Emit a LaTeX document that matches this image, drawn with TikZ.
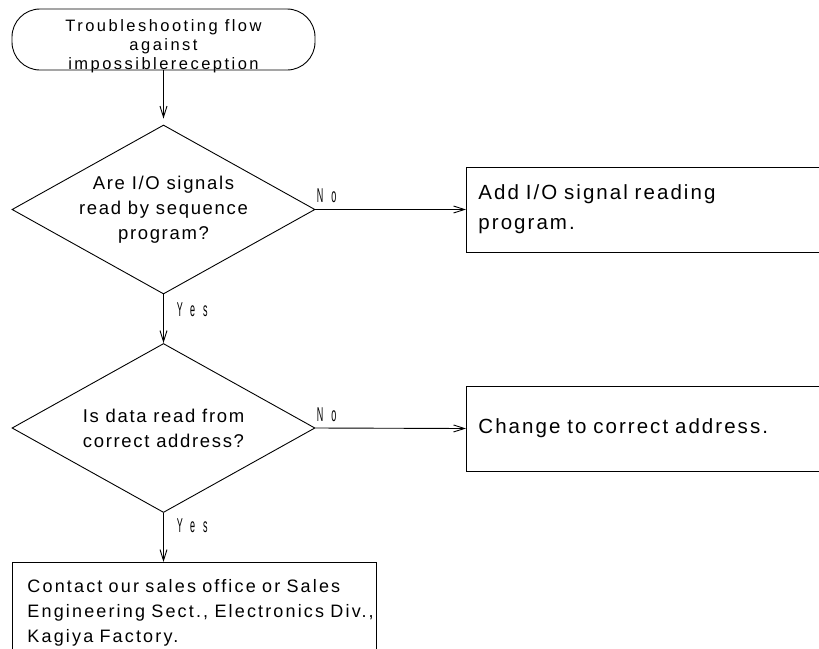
\documentclass[tikz,border=0pt]{standalone}
\usepackage{fontspec}
\setmainfont{Liberation Sans}
\newfontfamily\boxfont{Liberation Sans}[LetterSpace=10]
\newfontfamily\askfont{Liberation Sans}[LetterSpace=9]
\newfontfamily\notefont{Liberation Sans}[LetterSpace=12]
\newfontfamily\termfont{Liberation Sans}[LetterSpace=15]
\newfontfamily\ynfont{Liberation Sans}[FakeStretch=0.45,LetterSpace=40]
\newcommand\notespace{\spaceskip=6.3pt\relax}
\usetikzlibrary{shapes.geometric,arrows.meta}

\begin{document}
\begin{tikzpicture}[x=1pt,y=-1pt,line width=0.9pt,
                    every node/.style={inner sep=0pt},
                    >={Straight Barb[length=11pt,width=7pt]},
                    term/.style={draw,rectangle,rounded corners=28pt,minimum width=303pt,minimum height=61pt},
                    termtext/.style={align=center,font=\termfont\fontsize{16.5}{19}\selectfont},
                    decision/.style={draw,diamond,aspect=1.8,minimum width=303pt,minimum height=169pt,
                                     align=center,font=\askfont\fontsize{18.5}{25}\selectfont},
                    action/.style={draw,rectangle,minimum height=85pt,inner xsep=12pt,text width=340pt,
                                   align=left,font=\boxfont\fontsize{20.5}{30}\selectfont},
                    yn/.style={font=\ynfont\fontsize{20}{20}\selectfont}]
                      \useasboundingbox (0,0) rectangle (819,648);
                      \node [term] (start) at (163.5,39.5) {};
                      \node [termtext] (starttext) at ([yshift=-7pt]start.center) {Troubleshooting flow\\against\\impossiblereception};
                      \node [decision] (read) at (163.5,209.5) {Are I/O signals\\read by sequence\\program?};
                      \node [decision] (addr) at (163.5,428) {Is data read from\\correct address?};
                      \node [action,anchor=west] (addprog) at (466,209.5) {Add I/O signal reading\\program.};
                      \node [action,anchor=west] (change) at (466,428.5) {Change to correct address.};
                      \node [action,anchor=north west,minimum height=100pt,inner xsep=15pt,text width=334pt,
                             font=\notefont\fontsize{18}{25}\selectfont] (contact) at (12,562)
                            {\notespace Contact our sales office or Sales\\\mbox{Engineering Sect., Electronics Div.,}\\Kagiya Factory.};
                      \draw [black,->,shorten >=6pt] (start) -- (read);
                      \draw [black,->] (read.east) -- (addprog.west);
                      \draw [black,->] (read.south) -- (addr.north);
                      \draw [black,->] (addr.east) -- (change.west);
                      \draw [black,->] (addr.south) -- (contact.north -| addr.south);
                      \node [yn,anchor=south west] (no1) at ([xshift=1pt,yshift=6pt]read.east) {No};
                      \node [yn,anchor=north west] (yes1) at ([xshift=13pt,yshift=-8pt]read.south) {Yes};
                      \node [yn,anchor=south west] (no2) at ([xshift=1pt,yshift=6pt]addr.east) {No};
                      \node [yn,anchor=north west] (yes2) at ([xshift=13pt,yshift=-5pt]addr.south) {Yes};
                  \end{tikzpicture}
\end{document}
